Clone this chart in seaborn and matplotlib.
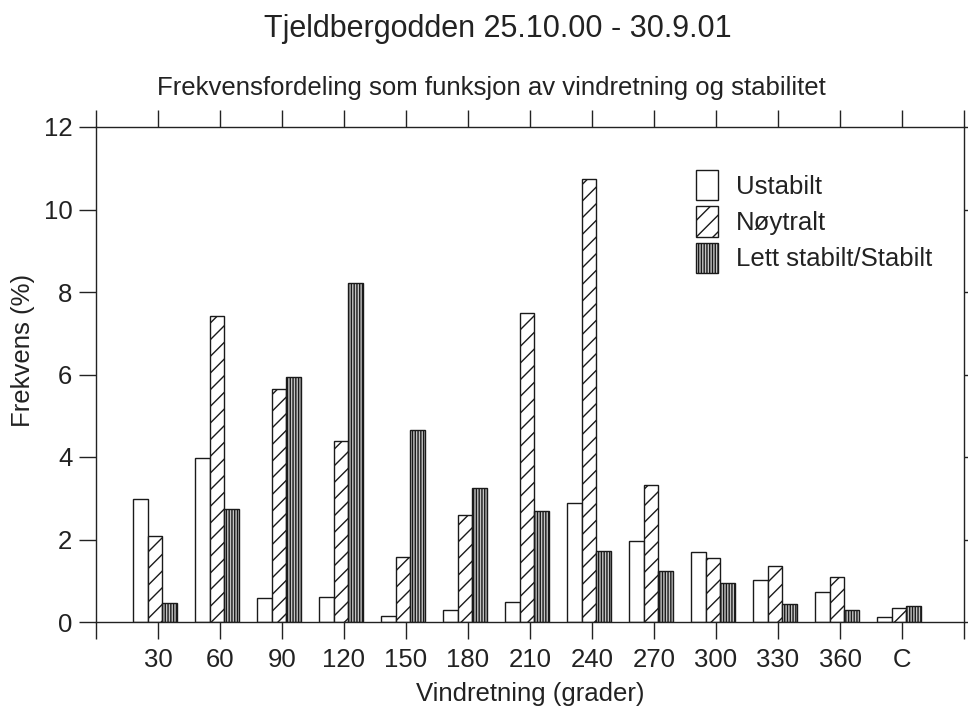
import numpy as np
import pandas as pd
import matplotlib
matplotlib.use("Agg")
import matplotlib.pyplot as plt
import seaborn as sns

# ---- data ----
categories = ['30', '60', '90', '120', '150', '180', '210', '240', '270', '300', '330', '360', 'C']
ustabilt = [2.97, 3.98, 0.58, 0.60, 0.14, 0.29, 0.48, 2.88, 1.96, 1.70, 1.03, 0.72, 0.11]
noytralt = [2.09, 7.43, 5.66, 4.38, 1.57, 2.59, 7.48, 10.75, 3.32, 1.54, 1.36, 1.10, 0.33]
stabilt = [0.47, 2.73, 5.94, 8.21, 4.66, 3.25, 2.68, 1.73, 1.24, 0.94, 0.44, 0.29, 0.39]
series_names = ['Ustabilt', 'Nøytralt', 'Lett stabilt/Stabilt']
y_ticks = [0, 2, 4, 6, 8, 10, 12]

title = 'Tjeldbergodden 25.10.00 - 30.9.01'
subtitle = 'Frekvensfordeling som funksjon av vindretning og stabilitet'
xlabel = 'Vindretning (grader)'
ylabel = 'Frekvens (%)'

df = pd.DataFrame({
    'retning': categories * 3,
    'klasse': [series_names[0]] * len(categories) + [series_names[1]] * len(categories)
              + [series_names[2]] * len(categories),
    'frekvens': ustabilt + noytralt + stabilt,
})

sns.set_theme(style='white')
plt.rcParams['font.family'] = ['Liberation Sans', 'DejaVu Sans']
plt.rcParams['hatch.linewidth'] = 1.0
plt.rcParams['text.color'] = '#222222'
plt.rcParams['xtick.color'] = '#222222'
plt.rcParams['ytick.color'] = '#222222'

W, H = 968, 713
fig = plt.figure(figsize=(W / 100, H / 100), dpi=100)
fig.patch.set_facecolor('white')
ax = fig.add_axes([96 / W, 1 - 622 / H, (964 - 96) / W, (622 - 127) / H])

sns.barplot(data=df, x='retning', y='frekvens', hue='klasse', order=categories,
            hue_order=series_names, palette=['white', 'white', '#c4c4c4'],
            width=0.71, saturation=1, edgecolor='#1a1a1a', linewidth=1.0,
            legend=False, ax=ax)

hatches = ['', '//', '||||||']
for cont, h in zip(ax.containers, hatches):
    for p in cont:
        p.set_hatch(h)
        p.set_edgecolor('#1a1a1a')

off = 0.047
ax.set_xlim(-1 + off, 13 + off)
ax.set_xticks(np.arange(-1, 14) + off)
ax.set_xticklabels([''] + categories + [''])
ax.set_ylim(0, 12)
ax.set_yticks(y_ticks)
ax.set_yticklabels([str(v) for v in y_ticks])

ax.tick_params(axis='both', which='both', direction='out', length=12, width=1,
               colors='#222222', labelsize=18.5, top=True, right=True,
               labeltop=False, labelright=False, bottom=True, left=True)
ax.tick_params(axis='x', pad=7)
ax.tick_params(axis='y', pad=5)
for s in ax.spines.values():
    s.set_visible(True)
    s.set_color('#222222')
    s.set_linewidth(1.0)

ax.set_xlabel(xlabel, fontsize=18.5, labelpad=7, color='#222222')
ax.set_ylabel('')
fig.text(23 / W, 1 - 350 / H, ylabel, rotation=90, ha='center', va='center',
         fontsize=18.5, color='#222222')

fig.text(497.5 / W, 1 - 29 / H, title, ha='center', va='center', fontsize=22, color='#222222')
fig.text(491.5 / W, 1 - 88 / H, subtitle, ha='center', va='center', fontsize=18.5, color='#222222')

handles = [cont.patches[0] for cont in ax.containers]
fs = 18.5 * 100 / 72
ax.legend(handles, series_names, loc='upper left',
          bbox_to_anchor=(696 / W, 1 - 170 / H), bbox_transform=fig.transFigure,
          frameon=False, borderpad=0, borderaxespad=0, fontsize=18.5,
          handlelength=22 / fs, handleheight=37 / fs, labelspacing=6 / fs,
          handletextpad=18 / fs)

fig.savefig('out.png', dpi=100, facecolor='white')
